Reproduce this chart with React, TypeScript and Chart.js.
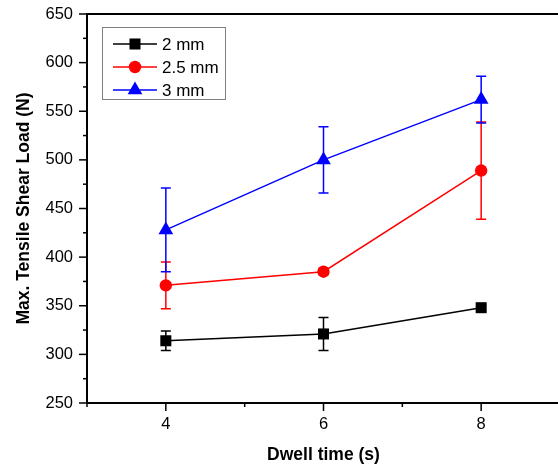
import React, { useEffect, useRef } from 'react';
import { Chart, registerables } from 'chart.js';

Chart.register(...registerables);

const dwellTimes = [4, 6, 8];
const seriesLabels = ['2 mm', '2.5 mm', '3 mm'];
const load2mm = [314, 321, 348];
const err2mm = [10, 17, 3];
const load25mm = [371, 385, 489];
const err25mm = [24, 3, 50];
const load3mm = [428, 500, 562];
const err3mm = [43, 34, 24];
const xTickLabels = [4, 6, 8];

const FONT = "'Liberation Sans', Arial, sans-serif";

const errorBarPlugin = {
  id: 'errorBars',
  beforeDatasetsDraw(chart: any) {
    const { ctx } = chart;
    const x = chart.scales.x;
    const y = chart.scales.y;
    chart.data.datasets.forEach((ds: any) => {
      ctx.save();
      ctx.strokeStyle = ds.borderColor;
      ctx.lineWidth = 1.5;
      ds.data.forEach((pt: any, j: number) => {
        const e = ds.errors[j];
        const px = x.getPixelForValue(pt.x);
        const t = y.getPixelForValue(pt.y + e);
        const b = y.getPixelForValue(pt.y - e);
        ctx.beginPath();
        ctx.moveTo(px, t);
        ctx.lineTo(px, b);
        ctx.moveTo(px - 5, t);
        ctx.lineTo(px + 5, t);
        ctx.moveTo(px - 5, b);
        ctx.lineTo(px + 5, b);
        ctx.stroke();
      });
      ctx.restore();
    });
  },
};

const axisPlugin = {
  id: 'axisDecor',
  afterDraw(chart: any) {
    const { ctx, chartArea } = chart;
    const x = chart.scales.x;
    const y = chart.scales.y;
    ctx.save();
    ctx.strokeStyle = '#000';
    ctx.lineWidth = 2;
    ctx.beginPath();
    ctx.moveTo(chartArea.left, chartArea.top);
    ctx.lineTo(chartArea.right + 2, chartArea.top);
    ctx.stroke();
    ctx.lineWidth = 1.5;
    y.ticks.forEach((t: any) => {
      const py = y.getPixelForValue(t.value);
      const major = t.value % 50 === 0;
      ctx.beginPath();
      ctx.moveTo(chartArea.left, py);
      ctx.lineTo(chartArea.left - (major ? 8 : 4), py);
      ctx.stroke();
    });
    x.ticks.forEach((t: any) => {
      const px = x.getPixelForValue(t.value);
      const major = xTickLabels.includes(t.value);
      ctx.beginPath();
      ctx.moveTo(px, chartArea.bottom);
      ctx.lineTo(px, chartArea.bottom + (major ? 8 : 4));
      ctx.stroke();
    });
    ctx.restore();
  },
};

function drawMarker(ctx: CanvasRenderingContext2D, style: string, x: number, y: number, r: number) {
  ctx.beginPath();
  if (style === 'rect') {
    const s = r * Math.SQRT1_2;
    ctx.rect(x - s, y - s, 2 * s, 2 * s);
  } else if (style === 'circle') {
    ctx.arc(x, y, r, 0, Math.PI * 2);
  } else {
    for (let k = 0; k < 3; k++) {
      const ang = -Math.PI / 2 + (k * 2 * Math.PI) / 3;
      const px = x + Math.cos(ang) * r;
      const py = y + Math.sin(ang) * r;
      if (k === 0) ctx.moveTo(px, py);
      else ctx.lineTo(px, py);
    }
    ctx.closePath();
  }
  ctx.fill();
}

const legendPlugin = {
  id: 'boxLegend',
  afterDraw(chart: any) {
    const { ctx } = chart;
    const bx = 102, by = 27, bw = 123, bh = 72;
    ctx.save();
    ctx.strokeStyle = '#7f7f7f';
    ctx.lineWidth = 1;
    ctx.strokeRect(bx + 0.5, by + 0.5, bw, bh);
    chart.data.datasets.forEach((ds: any, i: number) => {
      const cy = 44 + i * 23;
      ctx.strokeStyle = ds.borderColor;
      ctx.lineWidth = 1.5;
      ctx.beginPath();
      ctx.moveTo(113, cy);
      ctx.lineTo(157, cy);
      ctx.stroke();
      ctx.fillStyle = ds.pointBackgroundColor;
      drawMarker(ctx, ds.pointStyle, 135, cy, ds.pointRadius);
      ctx.fillStyle = '#000';
      ctx.font = `17px ${FONT}`;
      ctx.textAlign = 'left';
      ctx.textBaseline = 'middle';
      ctx.fillText(ds.label, 162, cy + 1);
    });
    ctx.restore();
  },
};

function toPoints(vals: number[]) {
  return dwellTimes.map((t, i) => ({ x: t, y: vals[i] }));
}

export default function App() {
  const ref = useRef<HTMLCanvasElement>(null);
  useEffect(() => {
    if (!ref.current) return;
    const colors = ['#000000', '#ff0000', '#0000ff'];
    const styles = ['rect', 'circle', 'triangle'];
    const radii = [7.8, 6.2, 8.5];
    const vals = [load2mm, load25mm, load3mm];
    const errs = [err2mm, err25mm, err3mm];
    const chart = new Chart(ref.current, {
      type: 'line',
      data: {
        datasets: seriesLabels.map((label, i) => ({
          label,
          data: toPoints(vals[i]),
          errors: errs[i],
          borderColor: colors[i],
          backgroundColor: colors[i],
          pointBackgroundColor: colors[i],
          pointBorderColor: colors[i],
          pointBorderWidth: 0,
          pointStyle: styles[i],
          pointRadius: radii[i],
          borderWidth: 1.5,
          tension: 0,
        })) as any,
      },
      options: {
        animation: false,
        responsive: false,
        devicePixelRatio: 1,
        layout: { padding: { top: 14, right: 40, left: 0, bottom: 0 } },
        plugins: {
          legend: { display: false },
          tooltip: { enabled: false },
        },
        scales: {
          x: {
            type: 'linear',
            min: 3,
            max: 9,
            ticks: {
              stepSize: 1,
              color: '#000',
              font: { family: FONT, size: 16.5 },
              padding: 12,
              callback: (v: any) => (xTickLabels.includes(v) ? String(v) : ''),
              maxRotation: 0,
              autoSkip: false,
            },
            grid: { display: false, drawTicks: false },
            border: { display: true, color: '#000', width: 2 },
            title: {
              display: true,
              text: 'Dwell time (s)',
              color: '#000',
              font: { family: FONT, size: 17.5, weight: 'bold' },
              padding: { top: 0, bottom: 2 },
            },
            afterFit: (s: any) => {
              s.height = 65;
              s.paddingLeft = 0;
              s.paddingRight = 0;
            },
          },
          y: {
            type: 'linear',
            min: 250,
            max: 650,
            ticks: {
              stepSize: 25,
              color: '#000',
              font: { family: FONT, size: 16.5 },
              padding: 14,
              callback: (v: any) => (v % 50 === 0 ? String(v) : ''),
              autoSkip: false,
            },
            grid: { display: false, drawTicks: false },
            border: { display: true, color: '#000', width: 2 },
            title: {
              display: true,
              text: 'Max. Tensile Shear Load (N)',
              color: '#000',
              font: { family: FONT, size: 17.5, weight: 'bold' },
              padding: { top: 14, bottom: 0 },
            },
            afterFit: (s: any) => {
              s.width = 87;
              s.paddingTop = 0;
              s.paddingBottom = 0;
            },
          },
        },
      },
      plugins: [errorBarPlugin, axisPlugin, legendPlugin],
    });
    return () => chart.destroy();
  }, []);
  return (
    <div
      style={{
        position: 'absolute',
        left: 0,
        top: 0,
        width: 558,
        height: 468,
        overflow: 'hidden',
        background: '#fff',
      }}
    >
      <canvas
        ref={ref}
        width={600}
        height={468}
        style={{ display: 'block', width: 600, height: 468, maxWidth: 'none' }}
      />
    </div>
  );
}
